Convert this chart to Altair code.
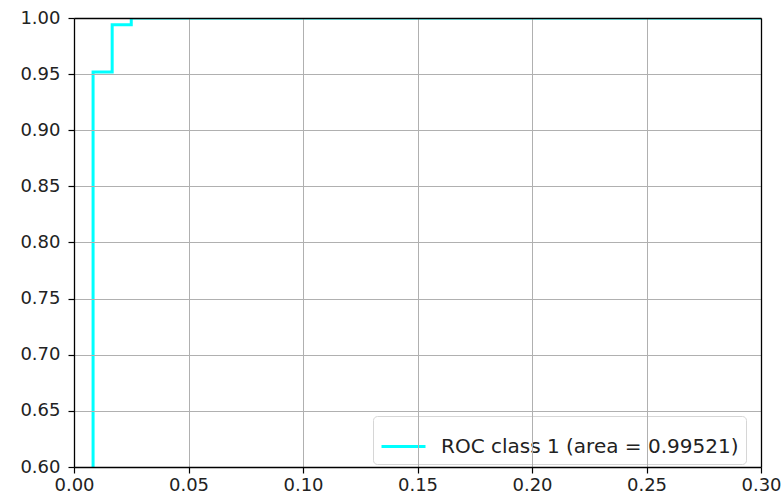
import altair as alt
import pandas as pd

fpr = [0.0, 0.00833, 0.00833, 0.01667, 0.01667, 0.025, 0.025, 1.0]
tpr = [0.0, 0.0, 0.952, 0.952, 0.994, 0.994, 1.0, 1.0]
series_name = "ROC class 1 (area = 0.99521)"
x_ticks = [0.0, 0.05, 0.10, 0.15, 0.20, 0.25, 0.30]
y_ticks = [0.60, 0.65, 0.70, 0.75, 0.80, 0.85, 0.90, 0.95, 1.00]

df = pd.DataFrame({"fpr": fpr, "tpr": tpr, "series": [series_name] * len(fpr),
                   "order": list(range(len(fpr)))})

FONT = "DejaVu Sans"

xscale = alt.Scale(domain=[0, 0.3], nice=False, zero=False)
yscale = alt.Scale(domain=[0.6, 1.0], nice=False, zero=False)

main = alt.Chart(df).mark_line(strokeWidth=3, clip=True, interpolate="linear").encode(
    x=alt.X("fpr:Q", scale=xscale, title=None,
            axis=alt.Axis(orient="bottom", values=x_ticks, format=".2f", grid=True,
                          gridColor="#b0b0b0", gridWidth=1, domainColor="black",
                          domainWidth=1.3, tickColor="black", tickSize=6, tickWidth=1.2,
                          labelFont=FONT, labelFontSize=18, labelColor="#222222",
                          labelPadding=3, labelFlush=False, zindex=1)),
    y=alt.Y("tpr:Q", scale=yscale, title=None,
            axis=alt.Axis(orient="left", values=y_ticks, format=".2f", grid=True,
                          gridColor="#b0b0b0", gridWidth=1, domainColor="black",
                          domainWidth=1.3, tickColor="black", tickSize=6, tickWidth=1.2,
                          labelFont=FONT, labelFontSize=18, labelColor="#222222",
                          labelPadding=8, labelFlush=False, zindex=1)),
    order="order:Q",
    color=alt.Color("series:N", scale=alt.Scale(domain=[series_name], range=["#00ffff"]),
                    legend=alt.Legend(title=None, orient="none", legendX=299, legendY=398,
                                      symbolType="stroke", symbolStrokeWidth=3,
                                      symbolSize=1936, labelFontSize=20, labelFont=FONT,
                                      labelColor="#222222", labelOffset=14, labelLimit=500,
                                      padding=7, strokeColor="#d6d6d6", fillColor="white",
                                      cornerRadius=4)),
)

frame = alt.Chart(df).mark_line(opacity=0, clip=True).encode(
    x=alt.X("fpr:Q", scale=xscale, title=None,
            axis=alt.Axis(orient="top", labels=False, ticks=False, grid=False,
                          domainColor="black", domainWidth=1.3, zindex=1)),
    y=alt.Y("tpr:Q", scale=yscale, title=None,
            axis=alt.Axis(orient="right", labels=False, ticks=False, grid=False,
                          domainColor="black", domainWidth=1.3, zindex=1)),
    order="order:Q",
)

chart = alt.layer(main, frame).resolve_axis(x="independent", y="independent").properties(
    width=687, height=449,
    autosize=alt.AutoSizeParams(type="none"),
    padding={"left": 74, "top": 18, "right": 21, "bottom": 32},
    background="white",
).configure_view(stroke=None)

chart.save("out.html", embed_options={"renderer": "svg", "actions": False})
